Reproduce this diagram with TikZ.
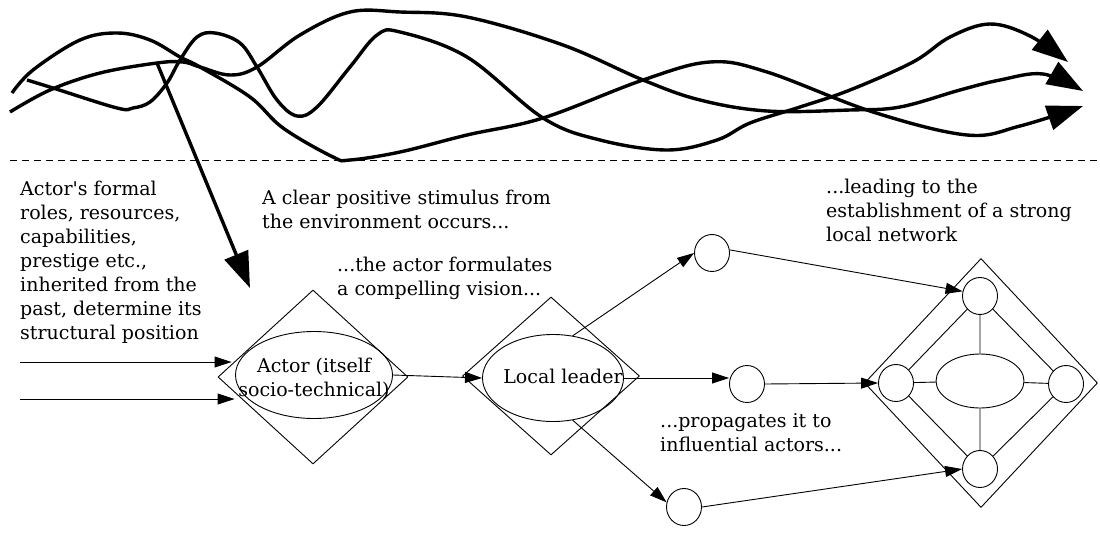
\documentclass[tikz,border=0pt]{standalone}
\usepackage{fontspec}
\setmainfont{DejaVu Serif}
\usetikzlibrary{arrows.meta,shapes.geometric}
% straight apostrophe, set as a glyph so the TeX mapping leaves it alone
\newcommand{\sq}{{\XeTeXglyph\XeTeXcharglyph"0027\relax}}
\begin{document}
\begin{tikzpicture}[x=1pt,y=-1pt,
  lbl/.style={font=\fontsize{19}{24}\selectfont, inner sep=0pt, align=left, anchor=north west},
  box/.style={diamond, draw, inner sep=0pt, line width=0.9pt},
  oval/.style={ellipse, draw, inner sep=0pt, line width=0.9pt},
  dot/.style={ellipse, draw, inner sep=0pt, minimum width=35pt, minimum height=37pt, line width=0.9pt},
  link/.style={line width=0.9pt},
  arr/.style={link, -{Triangle[length=17pt,width=11pt]}},
  flow/.style={line width=3.4pt, -{Triangle[length=36pt,width=25pt]}},
]
\useasboundingbox (0,0) rectangle (1100,538);

% environment: three intertwined trajectories
\draw[flow] plot[smooth, tension=0.6] coordinates {(10,112) (50,90) (100,73) (157,63) (183,62) (200,67) (230,75) (257,67) (300,35) (350,12) (400,12) (467,17) (563,45) (643,80) (700,100) (767,111) (850,110) (900,107) (960,90) (1000,80) (1043,74) (1083,91)};
\draw[flow] plot[smooth, tension=0.6] coordinates {(27,80) (53,88) (117,108) (133,108) (150,102) (167,83) (180,60) (197,37) (215,33) (240,43) (257,67) (277,100) (297,116) (317,107) (350,67) (377,35) (400,32) (467,57) (543,118) (600,140) (667,150) (717,140) (750,123) (800,107) (850,90) (913,62) (950,37) (990,24) (1030,36) (1068,62)};
\draw[flow] plot[smooth, tension=0.6] coordinates {(12,93) (33,70) (80,40) (117,33) (150,40) (180,57) (200,67) (250,97) (283,128) (333,157) (350,160) (400,152) (467,135) (543,118) (643,80) (710,62) (767,72) (873,112) (967,135) (1020,126) (1083,106)};

% boundary between environment and local arena
\coordinate (dl) at (10,160);
\coordinate (dr) at (1100,160);
\draw[line width=0.9pt, dash pattern=on 7pt off 5pt] (dl) -- (dr);

% captions
\node[lbl] (past) at (20,180.5) {Actor\sq s formal\\roles, resources,\\capabilities,\\prestige etc.,\\inherited from the\\past, determine its\\structural position};
\node[lbl] (stimtxt) at (262,189.5) {A clear positive stimulus from\\the environment occurs...};
\node[lbl] (visiontxt) at (337,256.5) {...the actor formulates\\a compelling vision...};
\node[lbl] (nettxt) at (826,178.5) {...leading to the\\establishment of a strong\\local network};
\node[lbl] (proptxt) at (660,413.5) {...propagates it to\\influential actors...};

% actor
\node[box, minimum width=190pt, minimum height=174pt] (actorD) at (313,377) {};
\node[oval, minimum width=157pt, minimum height=87pt] (actorE) at (314,375) {};
\node[lbl, align=center, anchor=north] (actorT) at (314,357.5) {Actor (itself\\socio-technical)};

% local leader
\node[box, minimum width=177pt, minimum height=158pt] (leadD) at (551,376) {};
\node[oval, minimum width=141pt, minimum height=87pt] (leadE) at (553,378) {};
\node[lbl, anchor=base] (leadT) at (563,383) {Local leader};

% influential actors
\node[dot] (c1) at (712,253) {};
\node[dot] (c2) at (747,384) {};
\node[dot] (c3) at (684,507) {};

% local network
\node[box, minimum width=233pt, minimum height=249pt] (netD) at (981,383) {};
\node[dot] (ntop) at (980,296) {};
\node[dot] (nleft) at (896,383) {};
\node[dot] (nright) at (1066,384) {};
\node[dot] (nbot) at (980,469) {};
\node[oval, minimum width=88pt, minimum height=54pt] (ncen) at (980,381) {};

% stimulus from the environment
\coordinate (stim) at (157,63);
\coordinate (stimtip) at (250,288);
\draw[flow] (stim) -- (stimtip);

% inputs from the past
\coordinate (in1) at (20,362);
\coordinate (in2) at (20,399);
\draw[arr] (in1) -- ([xshift=14pt]in1 -| actorD.west);
\draw[arr] (in2) -- ([xshift=17pt]in2 -| actorD.west);

% vision and propagation
\draw[arr] (actorE.east) -- (leadE.west);
\draw[arr] (leadE.65) -- (c1.west);
\draw[arr] (leadE.east) -- (leadE.east -| c2.west);
\draw[arr] (leadE.-65) -- (c3.165);
\draw[arr] (c1.10) -- (ntop.165);
\draw[arr] (c2.east) -- (nleft.west);
\draw[arr] (c3.east) -- (nbot.west);

% ties within the network
\draw[link] (ntop) -- (nleft) (nleft) -- (nbot) (nbot) -- (nright) (nright) -- (ntop)
  (ntop) -- (ncen) (nleft) -- (ncen) (ncen) -- (nright) (ncen) -- (nbot);
\end{tikzpicture}
\end{document}
